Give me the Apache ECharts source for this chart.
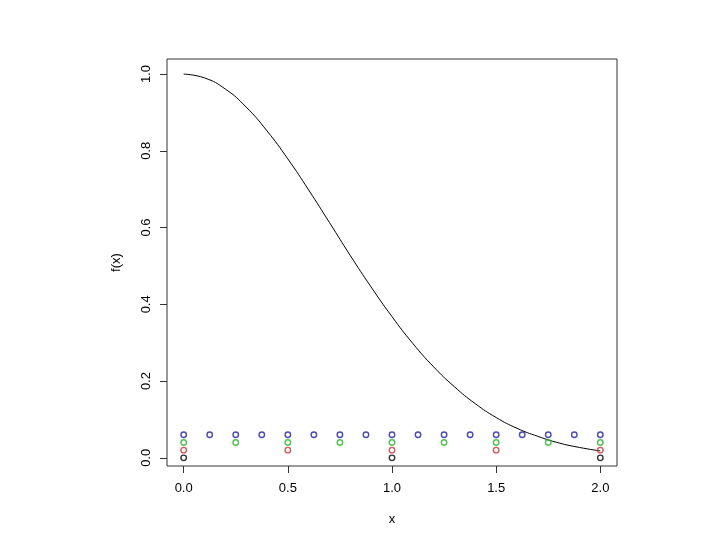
<!DOCTYPE html>
<html>
<head>
<meta charset="utf-8">
<script src="https://cdn.jsdelivr.net/npm/echarts@6/dist/echarts.min.js"></script>
<style>
  html, body { margin: 0; padding: 0; background: #fff; }
</style>
</head>
<body>
<!--容器-->
<div id="main" style="width:720px;height:540px;"></div>
<script>
// curve values
var curveX = [0, 0.1, 0.2, 0.3, 0.4, 0.5, 0.6, 0.7, 0.8, 0.9, 1.0,
              1.1, 1.2, 1.3, 1.4, 1.5, 1.6, 1.7, 1.8, 1.9, 2.0];
var curveY = [1.000, 0.990, 0.961, 0.914, 0.852, 0.779, 0.698, 0.613, 0.527, 0.445, 0.368,
              0.298, 0.237, 0.185, 0.141, 0.105, 0.077, 0.056, 0.039, 0.027, 0.018];

// point rows
var blackX = [0, 1, 2];
var blackY = [0, 0, 0];
var redX = [0, 0.5, 1, 1.5, 2];
var redY = [0.02, 0.02, 0.02, 0.02, 0.02];
var greenX = [0, 0.25, 0.5, 0.75, 1, 1.25, 1.5, 1.75, 2];
var greenY = [0.04, 0.04, 0.04, 0.04, 0.04, 0.04, 0.04, 0.04, 0.04];
var blueX = [0, 0.125, 0.25, 0.375, 0.5, 0.625, 0.75, 0.875, 1, 1.125, 1.25, 1.375, 1.5, 1.625, 1.75, 1.875, 2];
var blueY = [0.06, 0.06, 0.06, 0.06, 0.06, 0.06, 0.06, 0.06, 0.06, 0.06, 0.06, 0.06, 0.06, 0.06, 0.06, 0.06, 0.06];

// tick labels
var xTicks = [0, 0.5, 1, 1.5, 2];
var yTicks = [0, 0.2, 0.4, 0.6, 0.8, 1.0];

function pairs(xs, ys) {
  return xs.map(function (x, i) { return [x, ys[i]]; });
}

function pointSeries(xs, ys, color) {
  return {
    type: "scatter",
    data: pairs(xs, ys),
    symbol: "circle",
    symbolSize: 5.5,
    itemStyle: { color: "rgba(0,0,0,0)", borderColor: color, borderWidth: 1.4 },
    silent: true,
    z: 3
  };
}

var font = "Liberation Sans, Arial, sans-serif";
var myChart = echarts.init(document.getElementById("main"));

var option = {
  animation: false,
  backgroundColor: "#fff",
  grid: {
    left: 167, top: 59, right: 103, bottom: 74,
    show: true, borderColor: "#333", borderWidth: 1, backgroundColor: "transparent"
  },
  xAxis: {
    type: "value",
    min: -0.08, max: 2.08,
    name: "x",
    nameLocation: "middle",
    nameGap: 47,
    nameTextStyle: { fontFamily: font, fontSize: 13, color: "#000" },
    axisLine: { show: false, onZero: false },
    splitLine: { show: false },
    axisTick: { show: true, inside: false, length: 7, customValues: xTicks, lineStyle: { color: "#333" } },
    axisLabel: {
      customValues: xTicks, margin: 16, fontFamily: font, fontSize: 13, color: "#000",
      formatter: function (v) { return v.toFixed(1); }
    }
  },
  yAxis: {
    type: "value",
    min: -0.0213, max: 1.0393,
    name: "f(x)",
    nameLocation: "middle",
    nameGap: 44,
    nameRotate: 90,
    nameTextStyle: { fontFamily: font, fontSize: 13, color: "#000" },
    axisLine: { show: false, onZero: false },
    splitLine: { show: false },
    axisTick: { show: true, inside: false, length: 7, customValues: yTicks, lineStyle: { color: "#333" } },
    axisLabel: {
      customValues: yTicks, rotate: 90, margin: 14, fontFamily: font, fontSize: 13, color: "#000",
      formatter: function (v) { return v.toFixed(1); }
    }
  },
  series: [
    {
      type: "line",
      data: pairs(curveX, curveY),
      smooth: true,
      showSymbol: false,
      lineStyle: { color: "#000", width: 1 },
      silent: true,
      z: 2
    },
    pointSeries(blackX, blackY, "#000000"),
    pointSeries(redX, redY, "#d22d2d"),
    pointSeries(greenX, greenY, "#22b422"),
    pointSeries(blueX, blueY, "#1c1ca8")
  ]
};
myChart.setOption(option);
</script>
</body>
</html>
